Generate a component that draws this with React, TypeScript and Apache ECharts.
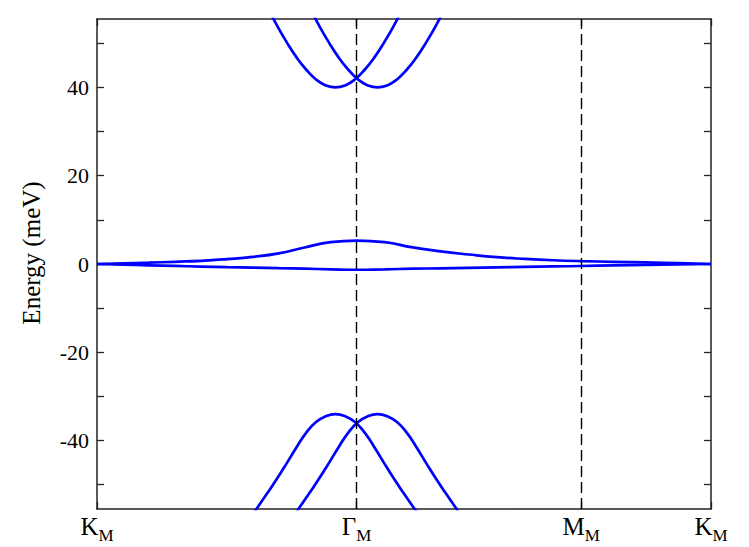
import React, { useEffect, useRef } from "react";
import * as echarts from "echarts";

// High-symmetry points along the path K_M - Γ_M - M_M - K_M (path length units)
const K0 = 0;
const GAMMA = 1.3333;
const MPT = 2.488;
const K1 = 3.1547;
const kPoints = [K0, GAMMA, MPT, K1];
const kLabels = ["K", "Γ", "M", "K"];

const yTicks = [-50, -40, -30, -20, -10, 0, 10, 20, 30, 40, 50];
const yLabels = [-40, -20, 0, 20, 40];

// Flat bands near zero energy (sampled along the path)
const flatK = [
  0, 0.1333, 0.2667, 0.4, 0.5333, 0.6667, 0.8, 0.9333, 1.0667, 1.2, 1.3333,
  1.4777, 1.622, 1.7664, 1.9107, 2.055, 2.1994, 2.3437, 2.488,
  2.6547, 2.8214, 2.988, 3.1547,
];
const flatUpperE = [
  0, 0.15, 0.3, 0.5, 0.72, 1.1, 1.6, 2.4, 3.75, 4.95, 5.3,
  4.95, 3.75, 2.85, 2.15, 1.55, 1.15, 0.85, 0.65,
  0.5, 0.35, 0.18, 0,
];
const flatLowerE = [
  0, -0.15, -0.29, -0.43, -0.58, -0.72, -0.83, -0.95, -1.07, -1.2, -1.3,
  -1.2, -1.07, -0.97, -0.88, -0.78, -0.67, -0.56, -0.45,
  -0.33, -0.2, -0.1, 0,
];

// Upper dispersive band (left copy): momentum offsets from Γ; the right copy is its mirror
const upperOffK = [-0.508, -0.458, -0.408, -0.358, -0.308, -0.258, -0.208, -0.158, -0.108, -0.058, -0.008, 0.042, 0.092, 0.142, 0.192, 0.242];
const upperE = [62.6, 58.2, 54.0, 50.2, 46.8, 44.0, 41.8, 40.46, 40.0, 40.46, 41.8, 44.0, 46.8, 50.2, 54.0, 58.2];

// Lower dispersive band (left copy): momentum offsets from Γ; the right copy is its mirror
const lowerOffK = [-0.558, -0.508, -0.458, -0.408, -0.358, -0.308, -0.258, -0.208, -0.158, -0.108, -0.058, -0.008, 0.042, 0.092, 0.142, 0.192, 0.242, 0.292, 0.342];
const lowerE = [-58.2, -55.1, -51.9, -48.6, -45.1, -41.5, -38.2, -35.8, -34.47, -34.0, -34.47, -35.8, -38.2, -41.5, -45.1, -48.6, -51.9, -55.1, -58.2];

const FONT = "Liberation Serif, Times New Roman, Times, serif";
const BLUE = "#0000ff";

function pairs(ks: number[], es: number[]) {
  return ks.map((k, i) => [k, es[i]]);
}

export default function App() {
  const ref = useRef<HTMLDivElement>(null);
  useEffect(() => {
    if (!ref.current) return;
    const chart = echarts.init(ref.current, undefined, { renderer: "svg" });
    const lineBase = {
      type: "line" as const,
      showSymbol: false,
      smooth: 0.5,
      clip: true,
      lineStyle: { color: BLUE, width: 2.7 },
      itemStyle: { color: BLUE },
      z: 3,
    };
    const axisLine = { show: true, onZero: false, lineStyle: { color: "#222", width: 1.5 } };
    const tickStyle = { color: "#222", width: 1.3 };
    const option = {
      animation: false,
      backgroundColor: "#fff",
      grid: { left: 97, top: 19, width: 614, height: 490, containLabel: false },
      xAxis: [
        {
          type: "value",
          min: K0,
          max: K1,
          position: "bottom",
          axisLine,
          splitLine: { show: false },
          axisTick: { show: true, inside: true, length: 7, customValues: kPoints, lineStyle: tickStyle },
          axisLabel: {
            show: true,
            customValues: kPoints,
            margin: 5,
            formatter: (v: number) => {
              const i = kPoints.findIndex((p) => Math.abs(p - v) < 1e-6);
              return i >= 0 ? `{k|${kLabels[i]}}{s|M}` : "";
            },
            rich: {
              k: { fontFamily: FONT, fontSize: 25, color: "#000", verticalAlign: "top", lineHeight: 28 },
              s: { fontFamily: FONT, fontSize: 17, color: "#000", verticalAlign: "top", padding: [13, 0, 0, 0], lineHeight: 28 },
            },
          },
        },
        {
          type: "value",
          min: K0,
          max: K1,
          position: "top",
          axisLine,
          splitLine: { show: false },
          axisTick: { show: true, inside: true, length: 7, customValues: kPoints, lineStyle: tickStyle },
          axisLabel: { show: false },
        },
      ],
      yAxis: [
        {
          type: "value",
          min: -55.5,
          max: 55.5,
          position: "left",
          axisLine,
          splitLine: { show: false },
          axisTick: { show: true, inside: true, length: 7, customValues: yTicks, lineStyle: tickStyle },
          axisLabel: {
            show: true,
            customValues: yLabels,
            margin: 8,
            fontFamily: FONT,
            fontSize: 22,
            color: "#000",
          },
        },
        {
          type: "value",
          min: -55.5,
          max: 55.5,
          position: "right",
          axisLine,
          splitLine: { show: false },
          axisTick: { show: true, inside: true, length: 7, customValues: yTicks, lineStyle: tickStyle },
          axisLabel: { show: false },
        },
      ],
      graphic: [
        {
          type: "text",
          x: 31,
          y: 253,
          rotation: Math.PI / 2,
          style: {
            text: "Energy (meV)",
            font: "25px Liberation Serif, Times New Roman, serif",
            fontFamily: FONT,
            fontSize: 25,
            fill: "#000",
            align: "center",
            verticalAlign: "middle",
          },
        },
      ],
      series: [
        {
          ...lineBase,
          name: "flat-upper",
          data: pairs(flatK, flatUpperE),
          markLine: {
            silent: true,
            symbol: "none",
            label: { show: false },
            lineStyle: { color: "#000", type: [11, 5], width: 1.4 },
            data: [{ xAxis: GAMMA }, { xAxis: MPT }],
          },
        },
        { ...lineBase, name: "flat-lower", data: pairs(flatK, flatLowerE) },
        { ...lineBase, name: "upper-left", data: pairs(upperOffK.map((o) => GAMMA + o), upperE) },
        { ...lineBase, name: "upper-right", data: pairs(upperOffK.map((o) => GAMMA - o), upperE) },
        { ...lineBase, name: "lower-left", data: pairs(lowerOffK.map((o) => GAMMA + o), lowerE) },
        { ...lineBase, name: "lower-right", data: pairs(lowerOffK.map((o) => GAMMA - o), lowerE) },
      ],
    };
    chart.setOption(option as any);
    return () => chart.dispose();
  }, []);
  return <div ref={ref} style={{ position: "fixed", left: 0, top: 0, width: 749, height: 547 }} />;
}
